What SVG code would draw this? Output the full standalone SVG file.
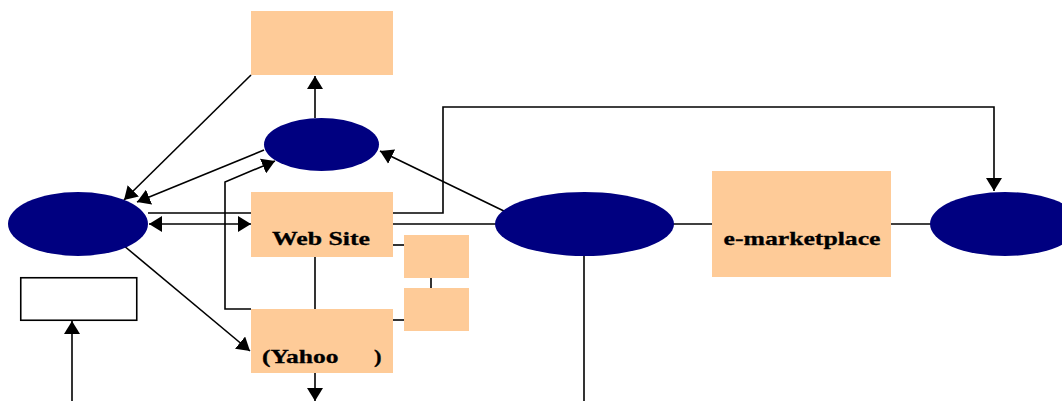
<svg xmlns="http://www.w3.org/2000/svg" width="1062" height="401" viewBox="0 0 1062 401">
  <style>
    .box { fill: #FECB98; }
    .oval { fill: #000080; }
    .plain { fill: #ffffff; stroke: #000000; stroke-width: 1.6; }
    .wire { fill: none; stroke: #000000; stroke-width: 1.6; }
    .arrow { marker-end: url(#head); }
    .label { font-family: "Liberation Serif", "Times New Roman", serif; font-weight: bold; font-size: 19px; fill: #000000; stroke: #000000; stroke-width: 0.3; }
  </style>
  <defs>
    <marker id="head" markerUnits="userSpaceOnUse" markerWidth="14" markerHeight="16" refX="13" refY="8" orient="auto">
      <path d="M0,0 L13,8 L0,16 z" fill="#000000"/>
    </marker>
    <marker id="tail" markerUnits="userSpaceOnUse" markerWidth="14" markerHeight="16" refX="0" refY="8" orient="auto">
      <path d="M13,0 L0,8 L13,16 z" fill="#000000"/>
    </marker>
  </defs>

  <g id="connectors">
    <line class="wire arrow" x1="315" y1="118" x2="315" y2="76"/>
    <line class="wire arrow" x1="251" y1="75" x2="124" y2="200"/>
    <line class="wire arrow" x1="264" y1="150" x2="137" y2="202"/>
    <polyline class="wire arrow" points="251,309 225,309 225,182 275,161"/>
    <line class="wire arrow" x1="508" y1="213" x2="380" y2="151"/>
    <polyline class="wire arrow" points="148,213 443,213 443,107 994,107 994,191"/>
    <line class="wire" x1="149" y1="224" x2="251" y2="224" marker-start="url(#tail)" marker-end="url(#head)"/>
    <line class="wire" x1="392" y1="224" x2="496" y2="224"/>
    <line class="wire" x1="673" y1="224" x2="713" y2="224"/>
    <line class="wire" x1="890" y1="224" x2="932" y2="224"/>
    <line class="wire" x1="584" y1="255" x2="584" y2="401"/>
    <line class="wire arrow" x1="123" y1="245" x2="250" y2="351"/>
    <line class="wire" x1="315" y1="257" x2="315" y2="309"/>
    <line class="wire" x1="392" y1="245" x2="405" y2="245"/>
    <line class="wire" x1="392" y1="320" x2="405" y2="320"/>
    <line class="wire" x1="431" y1="277" x2="431" y2="289"/>
    <line class="wire arrow" x1="315" y1="373" x2="315" y2="401"/>
    <line class="wire arrow" x1="72" y1="401" x2="72" y2="321"/>
  </g>

  <g id="top-box">
    <rect class="box" x="251" y="11" width="142" height="64"/>
  </g>
  <g id="top-oval">
    <ellipse class="oval" cx="321.5" cy="144.5" rx="57.5" ry="26.5"/>
  </g>
  <g id="left-oval">
    <ellipse class="oval" cx="78" cy="224" rx="70" ry="32"/>
  </g>
  <g id="white-box">
    <rect class="plain" x="20.75" y="277.75" width="116" height="42.5"/>
  </g>
  <g id="web-site">
    <rect class="box" x="251" y="192" width="142" height="65"/>
    <text class="label" x="272" y="245" textLength="98" lengthAdjust="spacingAndGlyphs">Web Site</text>
  </g>
  <g id="yahoo">
    <rect class="box" x="251" y="309" width="142" height="64"/>
    <text class="label" x="262" y="362.5" textLength="76.5" lengthAdjust="spacingAndGlyphs">(Yahoo</text>
    <text class="label" x="374" y="362.5" textLength="7.5" lengthAdjust="spacingAndGlyphs">)</text>
  </g>
  <g id="small-box-1">
    <rect class="box" x="404" y="235" width="65" height="43"/>
  </g>
  <g id="small-box-2">
    <rect class="box" x="404" y="288" width="65" height="43"/>
  </g>
  <g id="center-oval">
    <ellipse class="oval" cx="584.5" cy="224" rx="89.5" ry="32"/>
  </g>
  <g id="e-marketplace">
    <rect class="box" x="712" y="171" width="179" height="106"/>
    <text class="label" x="723.5" y="244.5" textLength="157" lengthAdjust="spacingAndGlyphs">e-marketplace</text>
  </g>
  <g id="right-oval">
    <ellipse class="oval" cx="1005" cy="224" rx="75" ry="32"/>
  </g>
</svg>
